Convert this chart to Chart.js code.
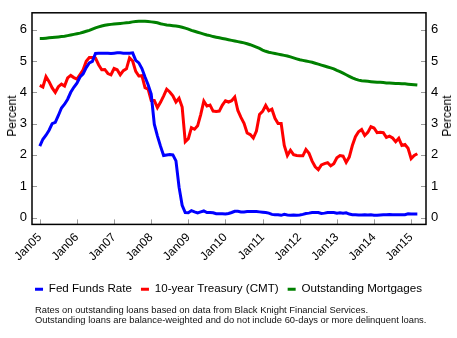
<!DOCTYPE html>
<html>
<head>
<meta charset="utf-8">
<script src="https://cdn.jsdelivr.net/npm/chart.js@4/dist/chart.umd.min.js"></script>
<style>
  body { margin: 0; background: #fff; }
  #wrap { position: relative; width: 457px; height: 338px; font-family: "Liberation Sans", Arial, sans-serif; }
  .ytitle { position: absolute; font-size: 12px; color: #000; transform: translate(-50%, -50%) rotate(-90deg); white-space: nowrap; }
  #note { position: absolute; left: 35px; top: 305px; font-size: 9.4px; line-height: 10px; color: #111; white-space: nowrap; }
</style>
</head>
<body>
<div id="wrap">
  <canvas id="chart" width="457" height="338"></canvas>
  <div class="ytitle" style="left:12px; top:116px">Percent</div>
  <div class="ytitle" style="left:447px; top:116px">Percent</div>
  <div id="note">Rates on outstanding loans based on data from Black Knight Financial Services.<br>Outstanding loans are balance-weighted and do not include 60-days or more delinquent loans.</div>
</div>
<script>
// monthly, Jan 2005 .. Mar 2015
const startYear = 2005
const yearTicks = [2005, 2006, 2007, 2008, 2009, 2010, 2011, 2012, 2013, 2014, 2015]
const percentTicks = [0, 1, 2, 3, 4, 5, 6]

const fedFunds = [
  2.28, 2.50, 2.63, 2.79, 3.00, 3.04, 3.26, 3.50, 3.62, 3.78, 4.00, 4.16,
  4.29, 4.49, 4.59, 4.79, 4.94, 4.99, 5.24, 5.25, 5.25, 5.25, 5.25, 5.24,
  5.25, 5.26, 5.26, 5.25, 5.25, 5.25, 5.26, 5.02, 4.94, 4.76, 4.49, 4.24,
  3.94, 2.98, 2.61, 2.28, 1.98, 2.00, 2.01, 2.00, 1.81, 0.97, 0.39, 0.16,
  0.15, 0.22, 0.18, 0.15, 0.18, 0.21, 0.16, 0.16, 0.15, 0.12, 0.12, 0.12,
  0.11, 0.13, 0.16, 0.20, 0.20, 0.18, 0.18, 0.19, 0.19, 0.19, 0.19, 0.18,
  0.17, 0.16, 0.14, 0.10, 0.09, 0.09, 0.07, 0.10, 0.08, 0.07, 0.08, 0.07,
  0.08, 0.10, 0.13, 0.14, 0.16, 0.16, 0.16, 0.13, 0.14, 0.16, 0.16, 0.16,
  0.14, 0.15, 0.14, 0.15, 0.11, 0.09, 0.09, 0.08, 0.08, 0.09, 0.08, 0.09,
  0.07, 0.07, 0.08, 0.09, 0.09, 0.10, 0.09, 0.09, 0.09, 0.09, 0.09, 0.12,
  0.11, 0.11, 0.11
]

const treasury10y = [
  4.22, 4.17, 4.50, 4.34, 4.14, 4.00, 4.18, 4.26, 4.20, 4.46, 4.54, 4.47,
  4.42, 4.57, 4.72, 4.99, 5.11, 5.11, 5.09, 4.88, 4.72, 4.73, 4.60, 4.56,
  4.76, 4.72, 4.56, 4.69, 4.75, 5.10, 5.00, 4.67, 4.52, 4.53, 4.15, 4.10,
  3.74, 3.74, 3.51, 3.68, 3.88, 4.10, 4.01, 3.89, 3.69, 3.81, 3.53, 2.42,
  2.52, 2.87, 2.82, 2.93, 3.29, 3.72, 3.56, 3.59, 3.40, 3.39, 3.40, 3.59,
  3.73, 3.69, 3.73, 3.85, 3.42, 3.20, 3.01, 2.70, 2.65, 2.54, 2.76, 3.29,
  3.39, 3.58, 3.41, 3.46, 3.17, 3.00, 3.00, 2.30, 1.98, 2.15, 2.01, 1.98,
  1.97, 1.97, 2.17, 2.05, 1.80, 1.62, 1.53, 1.68, 1.72, 1.75, 1.65, 1.72,
  1.91, 1.98, 1.96, 1.76, 1.93, 2.30, 2.58, 2.74, 2.81, 2.62, 2.72, 2.90,
  2.86, 2.71, 2.72, 2.71, 2.56, 2.60, 2.54, 2.42, 2.53, 2.30, 2.33, 2.21,
  1.88, 1.98, 2.04
]

const mortgages = [
  5.72, 5.72, 5.73, 5.74, 5.75, 5.76, 5.77, 5.78, 5.79, 5.81, 5.83, 5.85,
  5.87, 5.89, 5.92, 5.95, 5.98, 6.02, 6.06, 6.09, 6.12, 6.14, 6.16, 6.17,
  6.18, 6.19, 6.20, 6.21, 6.22, 6.23, 6.25, 6.26, 6.27, 6.27, 6.27, 6.26,
  6.25, 6.24, 6.22, 6.19, 6.17, 6.15, 6.14, 6.13, 6.12, 6.10, 6.08, 6.05,
  6.02, 5.98, 5.95, 5.92, 5.89, 5.86, 5.83, 5.81, 5.78, 5.76, 5.74, 5.72,
  5.70, 5.68, 5.66, 5.64, 5.62, 5.60, 5.58, 5.55, 5.52, 5.48, 5.44, 5.40,
  5.35, 5.31, 5.28, 5.26, 5.24, 5.22, 5.20, 5.18, 5.16, 5.13, 5.10, 5.07,
  5.04, 5.02, 5.00, 4.98, 4.96, 4.93, 4.90, 4.87, 4.84, 4.81, 4.78, 4.75,
  4.70, 4.66, 4.61, 4.56, 4.51, 4.46, 4.42, 4.39, 4.37, 4.36, 4.35, 4.34,
  4.33, 4.32, 4.32, 4.31, 4.30, 4.30, 4.29, 4.28, 4.28, 4.27, 4.27, 4.26,
  4.25, 4.24, 4.23
]

const toPoints = (values) => values.map((v, i) => ({ x: startYear + i / 12, y: v }))

// frame around the plot and short inward tick marks
const frameTicks = {
  id: "frameTicks",
  afterDraw(chart) {
    const { ctx, chartArea: a, scales } = chart
    ctx.save()
    ctx.strokeStyle = "#9a9a9a"
    ctx.lineWidth = 1
    ctx.beginPath()
    scales.x.ticks.forEach((t) => {
      const px = Math.round(scales.x.getPixelForValue(t.value)) + 0.5
      ctx.moveTo(px, a.bottom)
      ctx.lineTo(px, a.bottom - 5)
    })
    scales.y.ticks.forEach((t) => {
      const py = Math.round(scales.y.getPixelForValue(t.value)) + 0.5
      ctx.moveTo(a.left, py)
      ctx.lineTo(a.left + 5, py)
      ctx.moveTo(a.right, py)
      ctx.lineTo(a.right - 5, py)
    })
    ctx.stroke()
    ctx.strokeStyle = "#000"
    ctx.lineWidth = 1.5
    ctx.strokeRect(a.left, a.top, a.right - a.left, a.bottom - a.top)
    ctx.restore()
  }
}

Chart.defaults.font.family = '"Liberation Sans", Arial, sans-serif'
Chart.defaults.color = "#000"

const yScale = (position, width) => ({
  type: "linear",
  position,
  min: -0.22,
  max: 6.54,
  grid: { display: false, drawTicks: false },
  border: { display: false },
  ticks: { font: { size: 13 }, padding: 5 },
  afterBuildTicks: (axis) => { axis.ticks = percentTicks.map((v) => ({ value: v })) },
  afterFit: (axis) => { axis.width = width }
})

new Chart(document.getElementById("chart"), {
  type: "line",
  data: {
    datasets: [
      { label: "Fed Funds Rate", data: toPoints(fedFunds), borderColor: "#0000ff", backgroundColor: "#0000ff" },
      { label: "10-year Treasury (CMT)", data: toPoints(treasury10y), borderColor: "#ff0000", backgroundColor: "#ff0000" },
      { label: "Outstanding Mortgages", data: toPoints(mortgages), borderColor: "#008000", backgroundColor: "#008000" }
    ]
  },
  options: {
    responsive: false,
    animation: false,
    layout: { padding: { top: 9, bottom: 33, left: 0, right: 0 } },
    elements: {
      line: { borderWidth: 3, tension: 0, fill: false },
      point: { radius: 0 }
    },
    scales: {
      x: {
        type: "linear",
        min: 2004.79,
        max: 2015.40,
        grid: { display: false, drawTicks: false },
        border: { display: false },
        ticks: {
          font: { size: 12 },
          minRotation: 45,
          maxRotation: 45,
          autoSkip: false,
          padding: 6,
          callback: (v) => "Jan" + String(v).slice(2)
        },
        afterBuildTicks: (axis) => { axis.ticks = yearTicks.map((v) => ({ value: v })) },
        afterFit: (axis) => { axis.height = 50 }
      },
      y: yScale("left", 32),
      y2: yScale("right", 31)
    },
    plugins: {
      tooltip: { enabled: false },
      legend: {
        position: "bottom",
        labels: {
          boxWidth: 8,
          boxHeight: 3,
          padding: 9,
          font: { size: 11.6 },
          generateLabels: (chart) =>
            Chart.defaults.plugins.legend.labels.generateLabels(chart).map((l) => ({ ...l, lineWidth: 0, strokeStyle: "transparent" }))
        }
      }
    }
  },
  plugins: [frameTicks]
})
</script>
</body>
</html>
